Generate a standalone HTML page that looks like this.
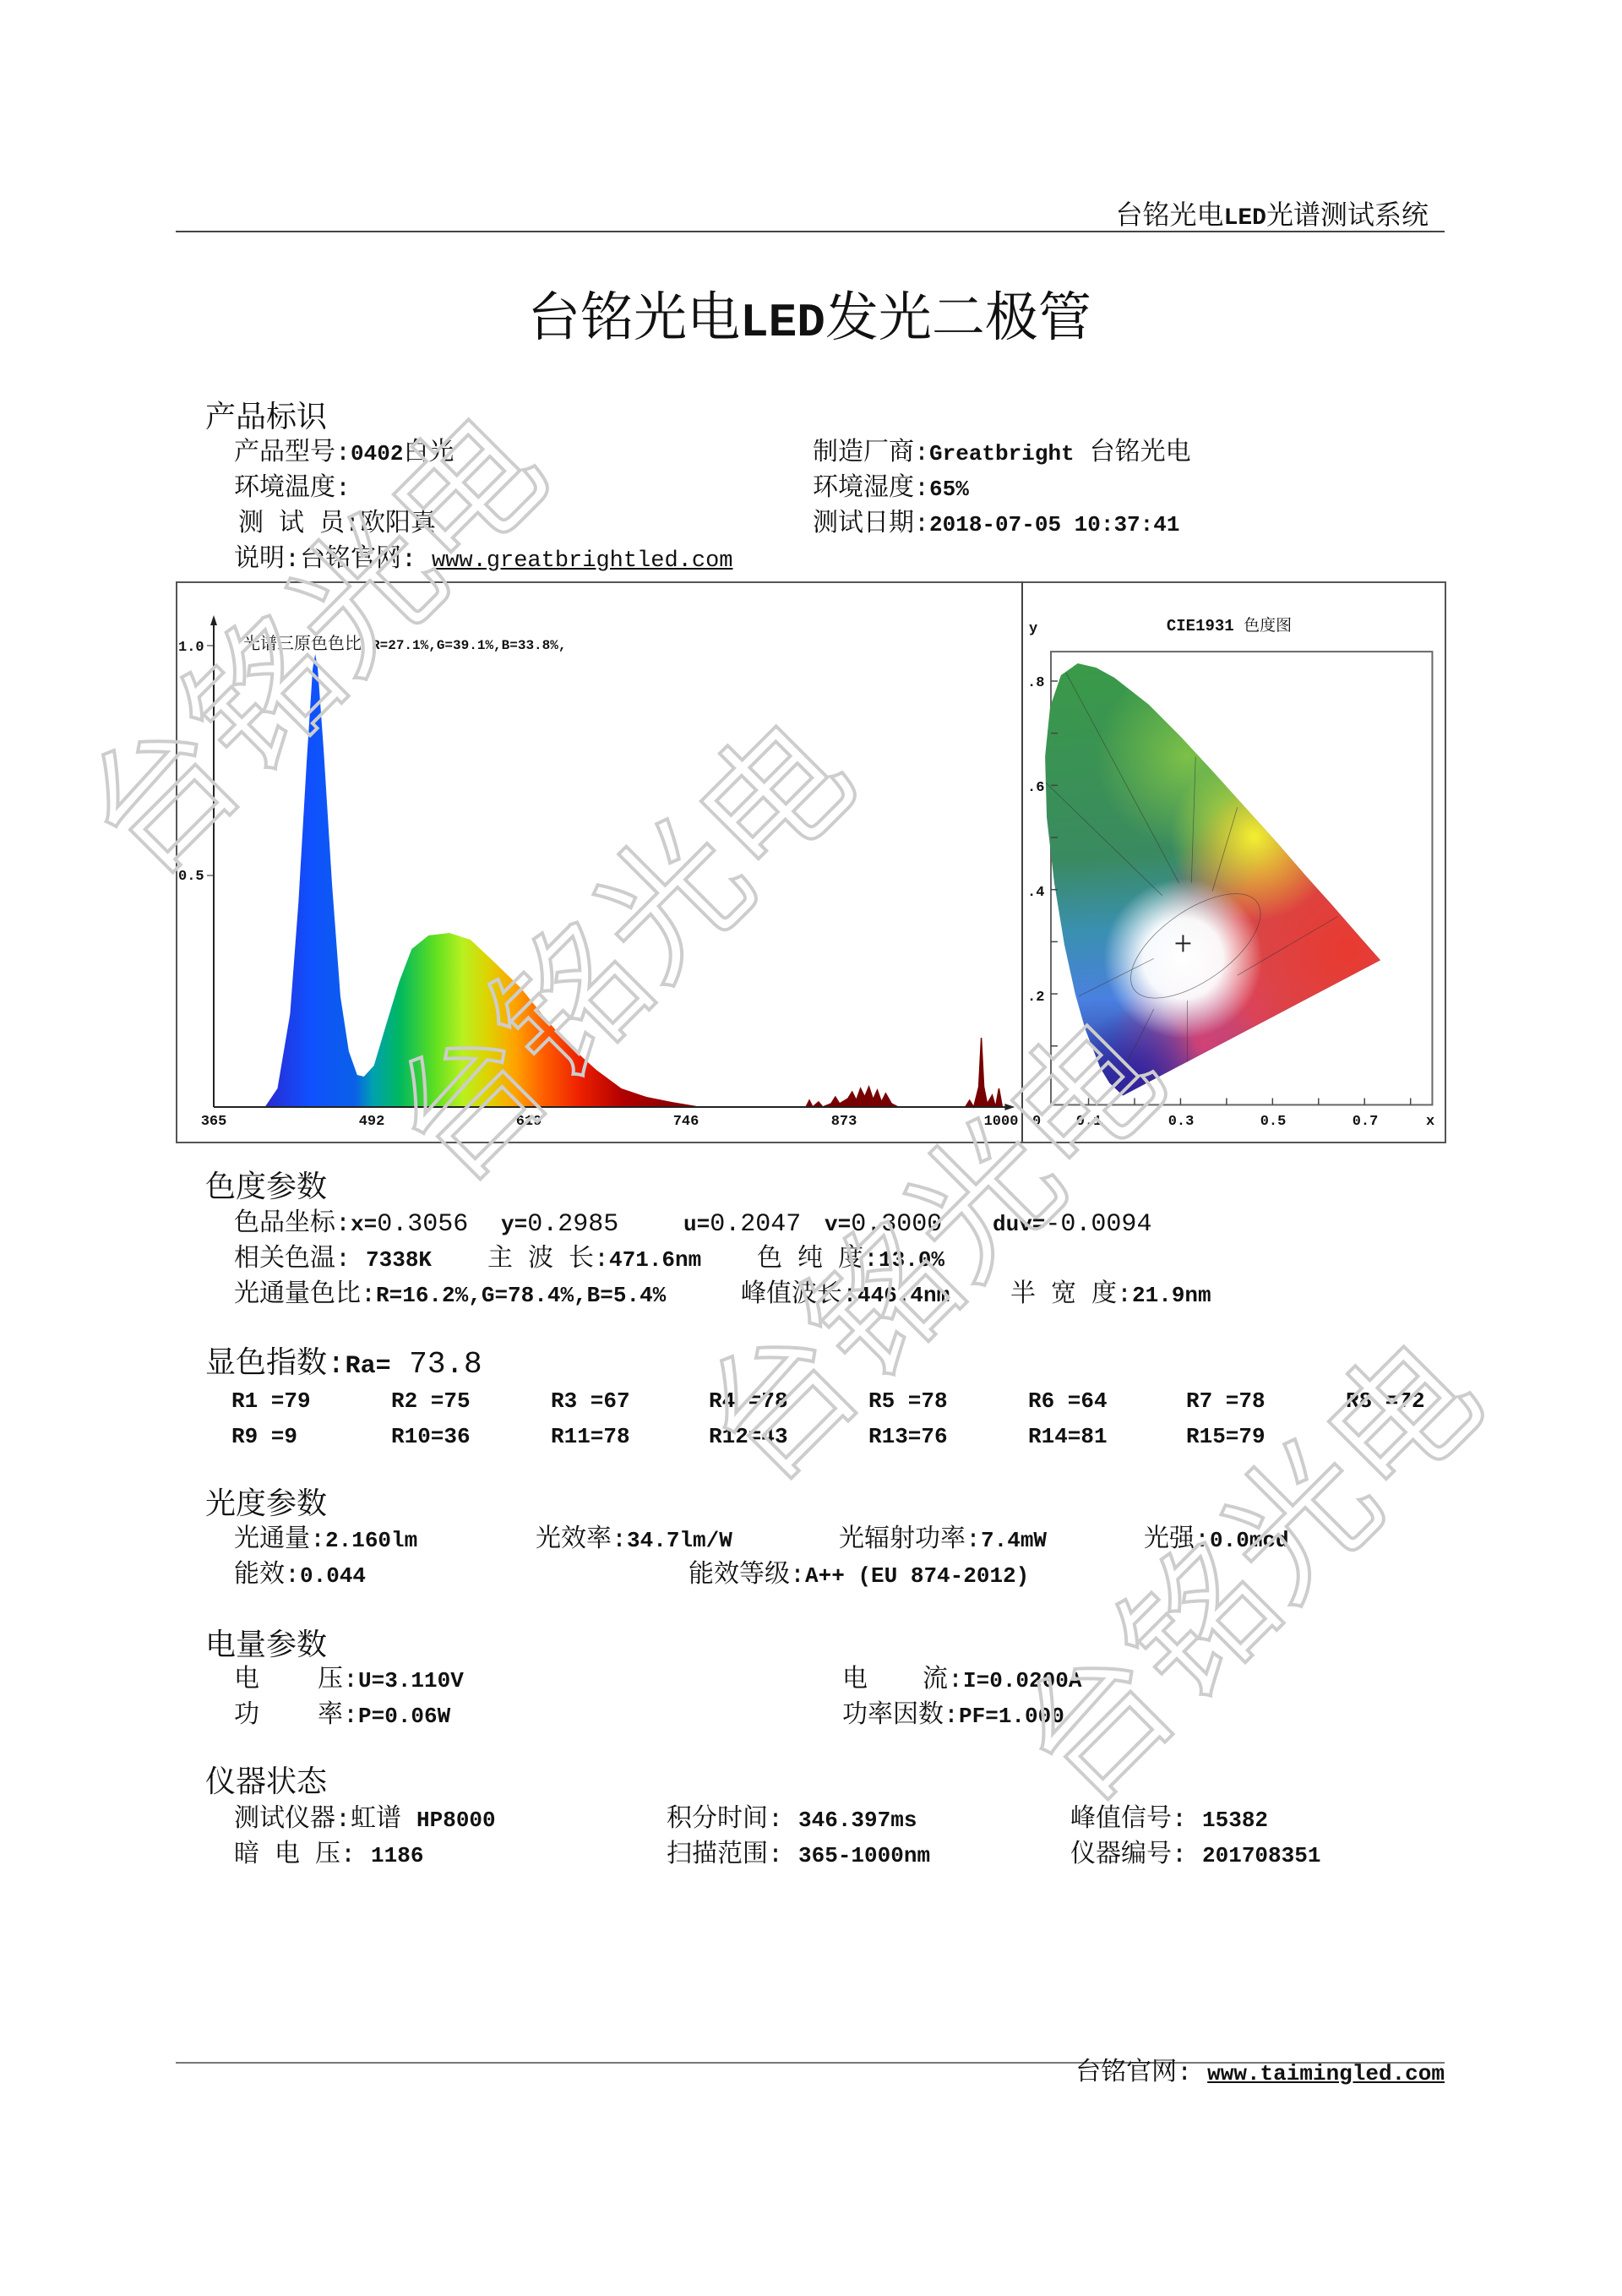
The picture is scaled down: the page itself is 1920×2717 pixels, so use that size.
<!DOCTYPE html>
<html><head><meta charset="utf-8">
<style>
html,body{margin:0;padding:0;background:#fff;}
body{width:1920px;height:2717px;position:relative;overflow:hidden;}
.t{position:absolute;white-space:pre;font:30px/32px "Liberation Mono","Noto Serif CJK SC",serif;color:#111;}
.h{position:absolute;white-space:pre;font:36px/40px "Liberation Mono","Noto Serif CJK SC",serif;color:#111;}
b{font-weight:bold;font-size:26px;}
.h b{font-size:30px;}
</style></head><body>

<div style="position:absolute;left:208px;top:273px;width:1502px;height:2px;background:#444"></div>
<div class="t" style="right:229px;top:240px;font-size:32px;line-height:34px">台铭光电<b style="font-size:28px">LED</b>光谱测试系统</div>
<div class="t" style="left:458px;width:1000px;text-align:center;top:346px;font-size:63px;line-height:70px">台铭光电<b style="font-size:56px">LED</b>发光二极管</div>

<div class="h" style="left:243px;top:476px">产品标识</div>
<div class="t" style="left:277px;top:521px">产品型号:<b>0402</b>白光</div>
<div class="t" style="left:277px;top:563px">环境温度:</div>
<div class="t" style="left:282px;top:605px">测 试 员:欧阳真</div>
<div class="t" style="left:277px;top:647px">说明:台铭官网: <u style="font-size:27px">www.greatbrightled.com</u></div>
<div class="t" style="left:962px;top:521px">制造厂商:<b>Greatbright</b> 台铭光电</div>
<div class="t" style="left:962px;top:563px">环境湿度:<b>65%</b></div>
<div class="t" style="left:962px;top:605px">测试日期:<b>2018-07-05 10:37:41</b></div>

<!-- chart box -->
<div style="position:absolute;left:208px;top:688px;width:1500px;height:661px;border:2px solid #555"></div>
<div style="position:absolute;left:1209px;top:688px;width:2px;height:663px;background:#444"></div>

<svg style="position:absolute;left:0;top:0" width="1920" height="2717" viewBox="0 0 1920 2717">
<defs>
<linearGradient id="sp" gradientUnits="userSpaceOnUse" x1="315" y1="0" x2="850" y2="0">
<stop offset="0" stop-color="#2a2ad0"/>
<stop offset="0.1" stop-color="#1050ff"/>
<stop offset="0.2" stop-color="#0a60e8"/>
<stop offset="0.24" stop-color="#00a0b0"/>
<stop offset="0.3" stop-color="#00b860"/>
<stop offset="0.38" stop-color="#60e020"/>
<stop offset="0.44" stop-color="#b8f020"/>
<stop offset="0.5" stop-color="#e0d000"/>
<stop offset="0.56" stop-color="#ffa000"/>
<stop offset="0.62" stop-color="#ff6000"/>
<stop offset="0.7" stop-color="#ee2000"/>
<stop offset="0.8" stop-color="#b00000"/>
<stop offset="1" stop-color="#700000"/>
</linearGradient>
<linearGradient id="cg" gradientUnits="userSpaceOnUse" x1="1300" y1="790" x2="1330" y2="1300">
<stop offset="0" stop-color="#3a9a48"/>
<stop offset="0.45" stop-color="#3a8a60"/>
<stop offset="0.62" stop-color="#3a90b0"/>
<stop offset="0.78" stop-color="#4a80e0"/>
<stop offset="1" stop-color="#2a2a90"/>
</linearGradient>
<radialGradient id="rg" gradientUnits="userSpaceOnUse" cx="1610" cy="1130" r="230">
<stop offset="0" stop-color="#e83a30" stop-opacity="1"/>
<stop offset="0.6" stop-color="#e84040" stop-opacity="0.9"/>
<stop offset="1" stop-color="#e84040" stop-opacity="0"/>
</radialGradient>
<radialGradient id="yg" gradientUnits="userSpaceOnUse" cx="1500" cy="995" r="100">
<stop offset="0" stop-color="#f4f030" stop-opacity="1"/>
<stop offset="1" stop-color="#e0f030" stop-opacity="0"/>
</radialGradient>
<radialGradient id="lg" gradientUnits="userSpaceOnUse" cx="1420" cy="900" r="110">
<stop offset="0" stop-color="#a8e040" stop-opacity="0.6"/>
<stop offset="1" stop-color="#a8e040" stop-opacity="0"/>
</radialGradient>
<radialGradient id="pg" gradientUnits="userSpaceOnUse" cx="1440" cy="1240" r="110">
<stop offset="0" stop-color="#e04070" stop-opacity="0.9"/>
<stop offset="1" stop-color="#e04070" stop-opacity="0"/>
</radialGradient>
<radialGradient id="vg" gradientUnits="userSpaceOnUse" cx="1360" cy="1280" r="80">
<stop offset="0" stop-color="#3020a0" stop-opacity="0.9"/>
<stop offset="1" stop-color="#3020a0" stop-opacity="0"/>
</radialGradient>
<radialGradient id="wg" gradientUnits="userSpaceOnUse" cx="1415" cy="1140" r="95">
<stop offset="0" stop-color="#fff" stop-opacity="1"/>
<stop offset="0.5" stop-color="#fff" stop-opacity="0.95"/>
<stop offset="1" stop-color="#fff" stop-opacity="0"/>
</radialGradient>
<clipPath id="cl"><polygon points="1343,1303 1327,1288 1316,1270 1298,1224 1286,1182 1273,1123 1261,1050 1252,972 1250,900 1256,841 1269,803 1289,789 1311,794 1333,806 1374,838 1413,877 1452,919 1491,962 1529,1004 1563,1043 1592,1075 1627,1115 1651,1142"/></clipPath>
</defs>

<!-- spectrum -->
<g transform="translate(253,0) scale(0.993,1) translate(-254,0)">
<polygon fill="url(#sp)" points="315,1310 330,1288 345,1200 355,1068 365,898 372,791 375,774 378,791 385,887 395,1046 405,1179 415,1244 425,1272 433,1274 445,1261 460,1211 475,1162 490,1123 510,1107 535,1104 560,1112 590,1140 620,1169 650,1206 680,1239 710,1266 740,1288 770,1298 800,1304 830,1309 850,1310"/>
<polyline fill="#700" stroke="#700" stroke-width="1.5" points="960,1310 964,1302 968,1310 975,1304 980,1310 990,1306 995,1298 1000,1306 1010,1300 1015,1292 1020,1302 1025,1288 1030,1298 1035,1286 1040,1301 1045,1290 1050,1304 1055,1294 1062,1306 1070,1310"/>
<polyline fill="#700" stroke="#700" stroke-width="1.5" points="1150,1310 1155,1302 1160,1310 1166,1286 1169,1228 1172,1286 1176,1306 1182,1296 1186,1310 1190,1288 1194,1310"/>
<line x1="254" y1="732" x2="254" y2="1310" stroke="#222" stroke-width="2"/>
<polygon points="254,728 250,740 258,740" fill="#222"/>
<line x1="254" y1="1310" x2="1205" y2="1310" stroke="#222" stroke-width="2"/>
<polygon points="1209,1310 1197,1306 1197,1314" fill="#222"/>
</g>
<line x1="253" y1="764" x2="245" y2="764" stroke="#222"/>
<line x1="253" y1="1036" x2="245" y2="1036" stroke="#222"/>
<g font-family="Liberation Mono, monospace" font-size="17" font-weight="bold" fill="#111">
<text x="211" y="770">1.0</text>
<text x="211" y="1041">0.5</text>
<text x="253" y="1331" text-anchor="middle">365</text>
<text x="440" y="1331" text-anchor="middle">492</text>
<text x="626" y="1331" text-anchor="middle">619</text>
<text x="812" y="1331" text-anchor="middle">746</text>
<text x="999" y="1331" text-anchor="middle">873</text>
<text x="1185" y="1331" text-anchor="middle">1000</text>
</g>
<text x="288" y="768" font-family="Liberation Mono, Noto Serif CJK SC, serif" font-size="20" fill="#111">光谱三原色色比  <tspan font-size="16" font-weight="bold">R=27.1%,G=39.1%,B=33.8%,</tspan></text>

<!-- CIE -->
<g transform="translate(1244,0) scale(0.99,0.995) translate(-1257,0)">
<rect x="1257" y="775" width="456" height="539" fill="none" stroke="#666" stroke-width="2"/>
<g clip-path="url(#cl)">
<rect x="1240" y="770" width="430" height="560" fill="url(#cg)"/>
<rect x="1240" y="770" width="430" height="560" fill="url(#lg)"/>
<rect x="1240" y="770" width="430" height="560" fill="url(#rg)"/>
<rect x="1240" y="770" width="430" height="560" fill="url(#yg)"/>
<rect x="1240" y="770" width="430" height="560" fill="url(#pg)"/>
<rect x="1240" y="770" width="430" height="560" fill="url(#vg)"/>
<rect x="1240" y="770" width="430" height="560" fill="url(#wg)"/>
<g stroke="#333" stroke-width="0.8" fill="none" opacity="0.6">
<line x1="1275" y1="800" x2="1410" y2="1050"/>
<line x1="1250" y1="930" x2="1390" y2="1065"/>
<line x1="1290" y1="1185" x2="1380" y2="1140"/>
<line x1="1430" y1="900" x2="1425" y2="1050"/>
<line x1="1480" y1="960" x2="1450" y2="1060"/>
<line x1="1380" y1="1200" x2="1330" y2="1300"/>
<line x1="1420" y1="1190" x2="1420" y2="1300"/>
<line x1="1480" y1="1160" x2="1600" y2="1090"/>
<ellipse cx="1430" cy="1125" rx="90" ry="42" transform="rotate(-35 1430 1125)"/>
</g>
</g>
<g stroke="#222" stroke-width="2"><line x1="1406" y1="1122" x2="1424" y2="1122"/><line x1="1415" y1="1112" x2="1415" y2="1132"/></g>
<g stroke="#444" stroke-width="1.5">
<line x1="1257" y1="810" x2="1265" y2="810"/><line x1="1257" y1="872" x2="1265" y2="872"/>
<line x1="1257" y1="934" x2="1265" y2="934"/><line x1="1257" y1="996" x2="1265" y2="996"/>
<line x1="1257" y1="1058" x2="1265" y2="1058"/><line x1="1257" y1="1120" x2="1265" y2="1120"/>
<line x1="1257" y1="1182" x2="1265" y2="1182"/><line x1="1257" y1="1244" x2="1265" y2="1244"/>
<line x1="1302" y1="1314" x2="1302" y2="1306"/><line x1="1357" y1="1314" x2="1357" y2="1306"/>
<line x1="1412" y1="1314" x2="1412" y2="1306"/><line x1="1467" y1="1314" x2="1467" y2="1306"/>
<line x1="1522" y1="1314" x2="1522" y2="1306"/><line x1="1577" y1="1314" x2="1577" y2="1306"/>
<line x1="1632" y1="1314" x2="1632" y2="1306"/><line x1="1687" y1="1314" x2="1687" y2="1306"/>
</g>
</g>
<g font-family="Liberation Mono, monospace" font-size="17" font-weight="bold" fill="#111">
<text x="1218" y="748">y</text>
<text x="1216" y="812">.8</text>
<text x="1216" y="936">.6</text>
<text x="1216" y="1060">.4</text>
<text x="1216" y="1184">.2</text>
<text x="1222" y="1331">0</text>
<text x="1289" y="1331" text-anchor="middle">0.1</text>
<text x="1398" y="1331" text-anchor="middle">0.3</text>
<text x="1507" y="1331" text-anchor="middle">0.5</text>
<text x="1616" y="1331" text-anchor="middle">0.7</text>
<text x="1688" y="1331">x</text>
</g>
<text x="1455" y="746" text-anchor="middle" font-family="Liberation Mono, Noto Serif CJK SC, serif" font-size="19" fill="#111"><tspan font-weight="bold">CIE1931</tspan> 色度图</text>
</svg>

<div class="h" style="left:243px;top:1387px">色度参数</div>
<div class="t" style="left:277px;top:1433px">色品坐标:<b>x=</b>0.3056</div>
<div class="t" style="left:593px;top:1433px"><b>y=</b>0.2985</div>
<div class="t" style="left:809px;top:1433px"><b>u=</b>0.2047</div>
<div class="t" style="left:976px;top:1433px"><b>v=</b>0.3000</div>
<div class="t" style="left:1175px;top:1433px"><b>duv=</b>-0.0094</div>
<div class="t" style="left:277px;top:1475px">相关色温: <b>7338K</b></div>
<div class="t" style="left:577px;top:1475px">主 波 长:<b>471.6nm</b></div>
<div class="t" style="left:896px;top:1475px">色 纯 度:<b>13.0%</b></div>
<div class="t" style="left:277px;top:1517px">光通量色比:<b>R=16.2%,G=78.4%,B=5.4%</b></div>
<div class="t" style="left:877px;top:1517px">峰值波长:<b>446.4nm</b></div>
<div class="t" style="left:1196px;top:1517px">半 宽 度:<b>21.9nm</b></div>

<div class="h" style="left:243px;top:1595px">显色指数:<b>Ra=</b> 73.8</div>
<div class="t" style="left:274px;top:1642px"><b>R1 =79</b></div>
<div class="t" style="left:463px;top:1642px"><b>R2 =75</b></div>
<div class="t" style="left:652px;top:1642px"><b>R3 =67</b></div>
<div class="t" style="left:839px;top:1642px"><b>R4 =78</b></div>
<div class="t" style="left:1028px;top:1642px"><b>R5 =78</b></div>
<div class="t" style="left:1217px;top:1642px"><b>R6 =64</b></div>
<div class="t" style="left:1404px;top:1642px"><b>R7 =78</b></div>
<div class="t" style="left:1593px;top:1642px"><b>R8 =72</b></div>
<div class="t" style="left:274px;top:1684px"><b>R9 =9</b></div>
<div class="t" style="left:463px;top:1684px"><b>R10=36</b></div>
<div class="t" style="left:652px;top:1684px"><b>R11=78</b></div>
<div class="t" style="left:839px;top:1684px"><b>R12=43</b></div>
<div class="t" style="left:1028px;top:1684px"><b>R13=76</b></div>
<div class="t" style="left:1217px;top:1684px"><b>R14=81</b></div>
<div class="t" style="left:1404px;top:1684px"><b>R15=79</b></div>

<div class="h" style="left:243px;top:1762px">光度参数</div>
<div class="t" style="left:277px;top:1807px">光通量:<b>2.160lm</b></div>
<div class="t" style="left:634px;top:1807px">光效率:<b>34.7lm/W</b></div>
<div class="t" style="left:993px;top:1807px">光辐射功率:<b>7.4mW</b></div>
<div class="t" style="left:1354px;top:1807px">光强:<b>0.0mcd</b></div>
<div class="t" style="left:277px;top:1849px">能效:<b>0.044</b></div>
<div class="t" style="left:815px;top:1849px">能效等级:<b>A++ (EU 874-2012)</b></div>

<div class="h" style="left:243px;top:1929px">电量参数</div>
<div class="t" style="left:277px;top:1973px">电</div>
<div class="t" style="left:376px;top:1973px">压:<b>U=3.110V</b></div>
<div class="t" style="left:997px;top:1973px">电</div>
<div class="t" style="left:1092px;top:1973px">流:<b>I=0.0200A</b></div>
<div class="t" style="left:277px;top:2015px">功</div>
<div class="t" style="left:376px;top:2015px">率:<b>P=0.06W</b></div>
<div class="t" style="left:997px;top:2015px">功率因数:<b>PF=1.000</b></div>

<div class="h" style="left:243px;top:2091px">仪器状态</div>
<div class="t" style="left:277px;top:2138px">测试仪器:虹谱 <b>HP8000</b></div>
<div class="t" style="left:789px;top:2138px">积分时间: <b>346.397ms</b></div>
<div class="t" style="left:1267px;top:2138px">峰值信号: <b>15382</b></div>
<div class="t" style="left:277px;top:2180px">暗 电 压: <b>1186</b></div>
<div class="t" style="left:789px;top:2180px">扫描范围: <b>365-1000nm</b></div>
<div class="t" style="left:1267px;top:2180px">仪器编号: <b>201708351</b></div>

<div style="position:absolute;left:208px;top:2440px;width:1502px;height:2px;background:#777"></div>
<div class="t" style="right:210px;top:2438px">台铭官网: <b><u>www.taimingled.com</u></b></div>

<!-- watermarks -->
<svg style="position:absolute;left:0;top:0;pointer-events:none" width="1920" height="2717">
<g font-family="Noto Sans CJK SC, sans-serif" font-size="170" fill="none" stroke="#cdcdcd" stroke-width="4" text-anchor="middle">
<text transform="translate(373,763) rotate(-45)" dy="58">台铭光电</text>
<text transform="translate(737,1126) rotate(-45)" dy="58">台铭光电</text>
<text transform="translate(1105,1480) rotate(-45)" dy="58">台铭光电</text>
<text transform="translate(1480,1860) rotate(-45)" dy="58">台铭光电</text>
</g>
</svg>
</body></html>
